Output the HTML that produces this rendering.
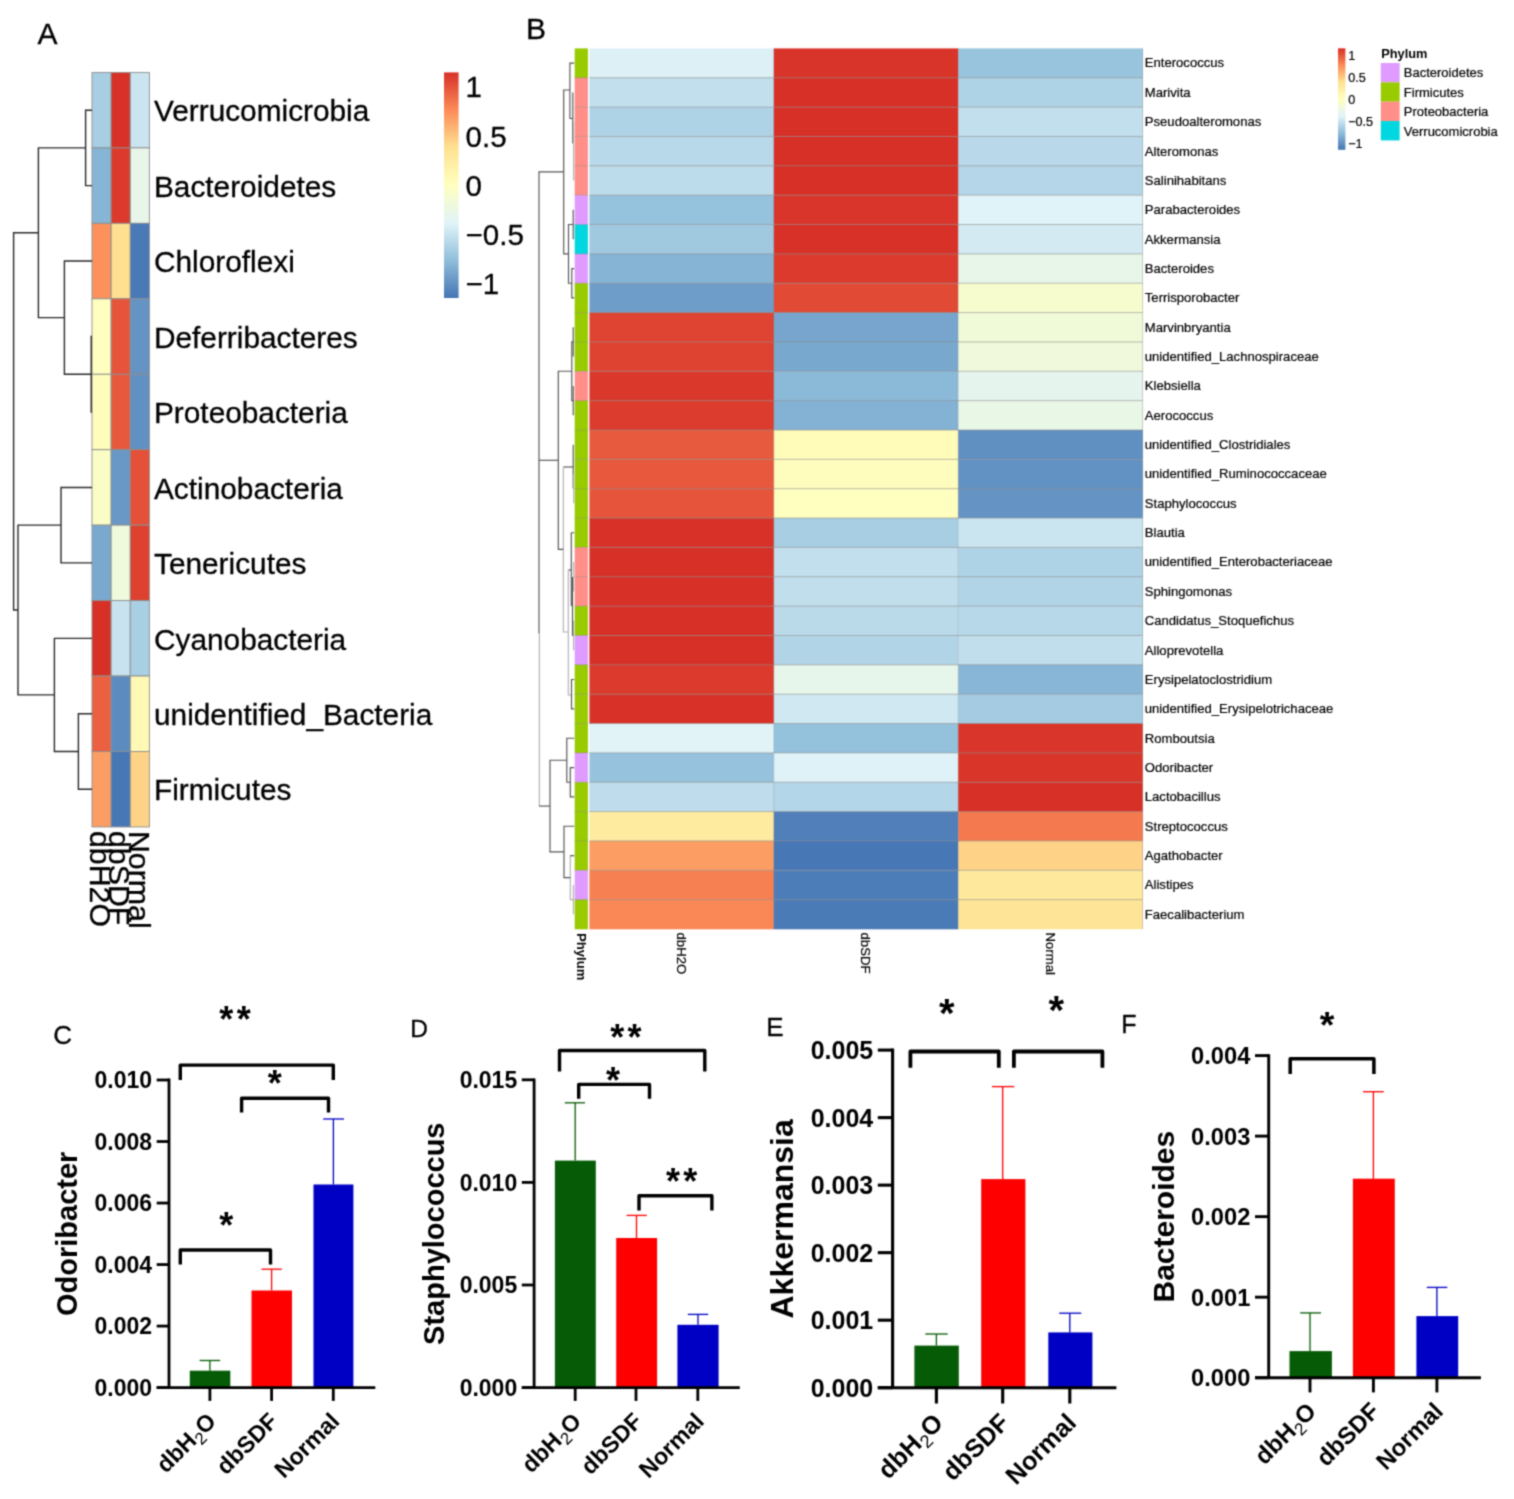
<!DOCTYPE html>
<html><head><meta charset="utf-8"><title>Figure</title>
<style>html,body{margin:0;padding:0;background:#fff}svg{display:block}text{font-family:"Liberation Sans",Arial,Helvetica,sans-serif;fill:#000}</style>
</head><body>
<svg width="1514" height="1499" viewBox="0 0 1514 1499">
<rect width="1514" height="1499" fill="#fff"/>
<filter id="soft" x="0" y="0" width="100%" height="100%" filterUnits="userSpaceOnUse" color-interpolation-filters="sRGB"><feConvolveMatrix order="3" kernelMatrix="1 3 1 3 9 3 1 3 1" divisor="25" edgeMode="duplicate" preserveAlpha="true"/></filter>
<g filter="url(#soft)">
<rect width="1514" height="1499" fill="#fff"/>
<text x="37.5" y="43.5" font-size="30" font-weight="normal" text-anchor="start"  stroke="#000" stroke-width="0.3">A</text>
<rect x="92" y="72.45" width="19.13" height="75.45" fill="#A7CEE3" stroke="#8e8e8e" stroke-width="0.9"/>
<rect x="111.13" y="72.45" width="19.13" height="75.45" fill="#D73128" stroke="#8e8e8e" stroke-width="0.9"/>
<rect x="130.26" y="72.45" width="19.13" height="75.45" fill="#CAE5F0" stroke="#8e8e8e" stroke-width="0.9"/>
<text x="154" y="121.38" font-size="29.8" font-weight="normal" text-anchor="start"  stroke="#000" stroke-width="0.3">Verrucomicrobia</text>
<rect x="92" y="147.9" width="19.13" height="75.45" fill="#86B5D5" stroke="#8e8e8e" stroke-width="0.9"/>
<rect x="111.13" y="147.9" width="19.13" height="75.45" fill="#DB3A2C" stroke="#8e8e8e" stroke-width="0.9"/>
<rect x="130.26" y="147.9" width="19.13" height="75.45" fill="#E8F6EA" stroke="#8e8e8e" stroke-width="0.9"/>
<text x="154" y="196.82" font-size="29.8" font-weight="normal" text-anchor="start"  stroke="#000" stroke-width="0.3">Bacteroidetes</text>
<rect x="92" y="223.35" width="19.13" height="75.45" fill="#FC915C" stroke="#8e8e8e" stroke-width="0.9"/>
<rect x="111.13" y="223.35" width="19.13" height="75.45" fill="#FEE090" stroke="#8e8e8e" stroke-width="0.9"/>
<rect x="130.26" y="223.35" width="19.13" height="75.45" fill="#4979B6" stroke="#8e8e8e" stroke-width="0.9"/>
<text x="154" y="272.28" font-size="29.8" font-weight="normal" text-anchor="start"  stroke="#000" stroke-width="0.3">Chloroflexi</text>
<rect x="92" y="298.8" width="19.13" height="75.45" fill="#FFFFBF" stroke="#8e8e8e" stroke-width="0.9"/>
<rect x="111.13" y="298.8" width="19.13" height="75.45" fill="#E6553B" stroke="#8e8e8e" stroke-width="0.9"/>
<rect x="130.26" y="298.8" width="19.13" height="75.45" fill="#6493C4" stroke="#8e8e8e" stroke-width="0.9"/>
<text x="154" y="347.73" font-size="29.8" font-weight="normal" text-anchor="start"  stroke="#000" stroke-width="0.3">Deferribacteres</text>
<rect x="92" y="374.25" width="19.13" height="75.45" fill="#FFFDBB" stroke="#8e8e8e" stroke-width="0.9"/>
<rect x="111.13" y="374.25" width="19.13" height="75.45" fill="#E7593D" stroke="#8e8e8e" stroke-width="0.9"/>
<rect x="130.26" y="374.25" width="19.13" height="75.45" fill="#6190C2" stroke="#8e8e8e" stroke-width="0.9"/>
<text x="154" y="423.18" font-size="29.8" font-weight="normal" text-anchor="start"  stroke="#000" stroke-width="0.3">Proteobacteria</text>
<rect x="92" y="449.7" width="19.13" height="75.45" fill="#FBFDC6" stroke="#8e8e8e" stroke-width="0.9"/>
<rect x="111.13" y="449.7" width="19.13" height="75.45" fill="#6998C6" stroke="#8e8e8e" stroke-width="0.9"/>
<rect x="130.26" y="449.7" width="19.13" height="75.45" fill="#E45038" stroke="#8e8e8e" stroke-width="0.9"/>
<text x="154" y="498.62" font-size="29.8" font-weight="normal" text-anchor="start"  stroke="#000" stroke-width="0.3">Actinobacteria</text>
<rect x="92" y="525.15" width="19.13" height="75.45" fill="#7AA9CF" stroke="#8e8e8e" stroke-width="0.9"/>
<rect x="111.13" y="525.15" width="19.13" height="75.45" fill="#EFF9DC" stroke="#8e8e8e" stroke-width="0.9"/>
<rect x="130.26" y="525.15" width="19.13" height="75.45" fill="#DE4130" stroke="#8e8e8e" stroke-width="0.9"/>
<text x="154" y="574.08" font-size="29.8" font-weight="normal" text-anchor="start"  stroke="#000" stroke-width="0.3">Tenericutes</text>
<rect x="92" y="600.6" width="19.13" height="75.45" fill="#D73127" stroke="#8e8e8e" stroke-width="0.9"/>
<rect x="111.13" y="600.6" width="19.13" height="75.45" fill="#C8E3EF" stroke="#8e8e8e" stroke-width="0.9"/>
<rect x="130.26" y="600.6" width="19.13" height="75.45" fill="#A9CFE4" stroke="#8e8e8e" stroke-width="0.9"/>
<text x="154" y="649.53" font-size="29.8" font-weight="normal" text-anchor="start"  stroke="#000" stroke-width="0.3">Cyanobacteria</text>
<rect x="92" y="676.05" width="19.13" height="75.45" fill="#EA6041" stroke="#8e8e8e" stroke-width="0.9"/>
<rect x="111.13" y="676.05" width="19.13" height="75.45" fill="#5C8BC0" stroke="#8e8e8e" stroke-width="0.9"/>
<rect x="130.26" y="676.05" width="19.13" height="75.45" fill="#FFF9B5" stroke="#8e8e8e" stroke-width="0.9"/>
<text x="154" y="724.98" font-size="29.8" font-weight="normal" text-anchor="start"  stroke="#000" stroke-width="0.3">unidentified_Bacteria</text>
<rect x="92" y="751.5" width="19.13" height="75.45" fill="#FC9D63" stroke="#8e8e8e" stroke-width="0.9"/>
<rect x="111.13" y="751.5" width="19.13" height="75.45" fill="#4777B5" stroke="#8e8e8e" stroke-width="0.9"/>
<rect x="130.26" y="751.5" width="19.13" height="75.45" fill="#FED287" stroke="#8e8e8e" stroke-width="0.9"/>
<text x="154" y="800.43" font-size="29.8" font-weight="normal" text-anchor="start"  stroke="#000" stroke-width="0.3">Firmicutes</text>
<text x="90.36" y="831" font-size="30.3" font-weight="normal" text-anchor="start" transform="rotate(90 90.36 831)"  stroke="#000" stroke-width="0.3">dbH2O</text>
<text x="109.49" y="831" font-size="30.3" font-weight="normal" text-anchor="start" transform="rotate(90 109.49 831)"  stroke="#000" stroke-width="0.3">dbSDF</text>
<text x="128.62" y="831" font-size="30.3" font-weight="normal" text-anchor="start" transform="rotate(90 128.62 831)"  stroke="#000" stroke-width="0.3">Normal</text>
<path d="M92 110.18H85.6V185.62H92" fill="none" stroke="#2a2a2a" stroke-width="1.4"/>
<path d="M92 336.52H91.2V411.98H92" fill="none" stroke="#2a2a2a" stroke-width="1.4"/>
<path d="M92 261.07H64.4V374.25H91.2" fill="none" stroke="#2a2a2a" stroke-width="1.4"/>
<path d="M85.6 147.9H38.4V317.66H64.4" fill="none" stroke="#2a2a2a" stroke-width="1.4"/>
<path d="M92 487.43H61V562.88H92" fill="none" stroke="#2a2a2a" stroke-width="1.4"/>
<path d="M92 713.78H78.4V789.23H92" fill="none" stroke="#2a2a2a" stroke-width="1.4"/>
<path d="M92 638.33H54.4V751.5H78.4" fill="none" stroke="#2a2a2a" stroke-width="1.4"/>
<path d="M61 525.15H18V694.91H54.4" fill="none" stroke="#2a2a2a" stroke-width="1.4"/>
<path d="M38.4 232.78H13.6V610.03H18" fill="none" stroke="#2a2a2a" stroke-width="1.4"/>
<defs><linearGradient id="g" x1="0" y1="0" x2="0" y2="1"><stop offset="0" stop-color="#D73027"/><stop offset="0.17" stop-color="#FC8D59"/><stop offset="0.33" stop-color="#FEE090"/><stop offset="0.5" stop-color="#FFFFBF"/><stop offset="0.67" stop-color="#E0F3F8"/><stop offset="0.83" stop-color="#91BFDB"/><stop offset="1" stop-color="#4575B4"/></linearGradient></defs>
<rect x="444" y="72.4" width="14.6" height="225.6" fill="url(#g)" />
<text x="465.6" y="97.4" font-size="29.5" font-weight="normal" text-anchor="start"  stroke="#000" stroke-width="0.3">1</text>
<text x="465.6" y="147" font-size="29.5" font-weight="normal" text-anchor="start"  stroke="#000" stroke-width="0.3">0.5</text>
<text x="465.6" y="195.8" font-size="29.5" font-weight="normal" text-anchor="start"  stroke="#000" stroke-width="0.3">0</text>
<text x="465.6" y="245" font-size="29.5" font-weight="normal" text-anchor="start"  stroke="#000" stroke-width="0.3">−0.5</text>
<text x="465.6" y="294.4" font-size="29.5" font-weight="normal" text-anchor="start"  stroke="#000" stroke-width="0.3">−1</text>
<text x="526" y="39" font-size="30" font-weight="normal" text-anchor="start"  stroke="#000" stroke-width="0.3">B</text>
<rect x="574.7" y="48.4" width="13.2" height="29.65" fill="#98CB00" />
<rect x="589.4" y="48.4" width="184.7" height="29.65" fill="#DCF0F6" />
<rect x="773.8" y="48.4" width="184.7" height="29.65" fill="#D83429" />
<rect x="958.2" y="48.4" width="184.7" height="29.65" fill="#99C4DE" />
<text x="1144.8" y="67.48" font-size="13.1" font-weight="normal" text-anchor="start"  stroke="#000" stroke-width="0.2">Enterococcus</text>
<rect x="574.7" y="77.75" width="13.2" height="29.65" fill="#FF8F88" />
<rect x="589.4" y="77.75" width="184.7" height="29.65" fill="#C2DFED" />
<rect x="773.8" y="77.75" width="184.7" height="29.65" fill="#D73027" />
<rect x="958.2" y="77.75" width="184.7" height="29.65" fill="#AFD3E6" />
<text x="1144.8" y="96.83" font-size="13.1" font-weight="normal" text-anchor="start"  stroke="#000" stroke-width="0.2">Marivita</text>
<rect x="574.7" y="107.11" width="13.2" height="29.65" fill="#FF8F88" />
<rect x="589.4" y="107.11" width="184.7" height="29.65" fill="#AFD3E6" />
<rect x="773.8" y="107.11" width="184.7" height="29.65" fill="#D73027" />
<rect x="958.2" y="107.11" width="184.7" height="29.65" fill="#C2DFED" />
<text x="1144.8" y="126.18" font-size="13.1" font-weight="normal" text-anchor="start"  stroke="#000" stroke-width="0.2">Pseudoalteromonas</text>
<rect x="574.7" y="136.46" width="13.2" height="29.65" fill="#FF8F88" />
<rect x="589.4" y="136.46" width="184.7" height="29.65" fill="#B8D9E9" />
<rect x="773.8" y="136.46" width="184.7" height="29.65" fill="#D73027" />
<rect x="958.2" y="136.46" width="184.7" height="29.65" fill="#B9D9EA" />
<text x="1144.8" y="155.54" font-size="13.1" font-weight="normal" text-anchor="start"  stroke="#000" stroke-width="0.2">Alteromonas</text>
<rect x="574.7" y="165.81" width="13.2" height="29.65" fill="#FF8F88" />
<rect x="589.4" y="165.81" width="184.7" height="29.65" fill="#BDDCEB" />
<rect x="773.8" y="165.81" width="184.7" height="29.65" fill="#D73027" />
<rect x="958.2" y="165.81" width="184.7" height="29.65" fill="#B4D6E8" />
<text x="1144.8" y="184.89" font-size="13.1" font-weight="normal" text-anchor="start"  stroke="#000" stroke-width="0.2">Salinihabitans</text>
<rect x="574.7" y="195.17" width="13.2" height="29.65" fill="#DF9BFF" />
<rect x="589.4" y="195.17" width="184.7" height="29.65" fill="#95C2DC" />
<rect x="773.8" y="195.17" width="184.7" height="29.65" fill="#D9352A" />
<rect x="958.2" y="195.17" width="184.7" height="29.65" fill="#E0F3F8" />
<text x="1144.8" y="214.24" font-size="13.1" font-weight="normal" text-anchor="start"  stroke="#000" stroke-width="0.2">Parabacteroides</text>
<rect x="574.7" y="224.52" width="13.2" height="29.65" fill="#00D7E0" />
<rect x="589.4" y="224.52" width="184.7" height="29.65" fill="#A0C9E0" />
<rect x="773.8" y="224.52" width="184.7" height="29.65" fill="#D83228" />
<rect x="958.2" y="224.52" width="184.7" height="29.65" fill="#D3EAF3" />
<text x="1144.8" y="243.59" font-size="13.1" font-weight="normal" text-anchor="start"  stroke="#000" stroke-width="0.2">Akkermansia</text>
<rect x="574.7" y="253.87" width="13.2" height="29.65" fill="#DF9BFF" />
<rect x="589.4" y="253.87" width="184.7" height="29.65" fill="#86B4D5" />
<rect x="773.8" y="253.87" width="184.7" height="29.65" fill="#DB3A2D" />
<rect x="958.2" y="253.87" width="184.7" height="29.65" fill="#E8F6E9" />
<text x="1144.8" y="272.95" font-size="13.1" font-weight="normal" text-anchor="start"  stroke="#000" stroke-width="0.2">Bacteroides</text>
<rect x="574.7" y="283.22" width="13.2" height="29.65" fill="#98CB00" />
<rect x="589.4" y="283.22" width="184.7" height="29.65" fill="#6E9DC9" />
<rect x="773.8" y="283.22" width="184.7" height="29.65" fill="#E14A35" />
<rect x="958.2" y="283.22" width="184.7" height="29.65" fill="#F7FCCE" />
<text x="1144.8" y="302.3" font-size="13.1" font-weight="normal" text-anchor="start"  stroke="#000" stroke-width="0.2">Terrisporobacter</text>
<rect x="574.7" y="312.58" width="13.2" height="29.65" fill="#98CB00" />
<rect x="589.4" y="312.58" width="184.7" height="29.65" fill="#DF4331" />
<rect x="773.8" y="312.58" width="184.7" height="29.65" fill="#77A5CD" />
<rect x="958.2" y="312.58" width="184.7" height="29.65" fill="#F1FAD8" />
<text x="1144.8" y="331.65" font-size="13.1" font-weight="normal" text-anchor="start"  stroke="#000" stroke-width="0.2">Marvinbryantia</text>
<rect x="574.7" y="341.93" width="13.2" height="29.65" fill="#98CB00" />
<rect x="589.4" y="341.93" width="184.7" height="29.65" fill="#DE4231" />
<rect x="773.8" y="341.93" width="184.7" height="29.65" fill="#79A8CF" />
<rect x="958.2" y="341.93" width="184.7" height="29.65" fill="#F0F9DB" />
<text x="1144.8" y="361.01" font-size="13.1" font-weight="normal" text-anchor="start"  stroke="#000" stroke-width="0.2">unidentified_Lachnospiraceae</text>
<rect x="574.7" y="371.28" width="13.2" height="29.65" fill="#FF8F88" />
<rect x="589.4" y="371.28" width="184.7" height="29.65" fill="#DA382B" />
<rect x="773.8" y="371.28" width="184.7" height="29.65" fill="#8BB9D8" />
<rect x="958.2" y="371.28" width="184.7" height="29.65" fill="#E5F5EE" />
<text x="1144.8" y="390.36" font-size="13.1" font-weight="normal" text-anchor="start"  stroke="#000" stroke-width="0.2">Klebsiella</text>
<rect x="574.7" y="400.64" width="13.2" height="29.65" fill="#98CB00" />
<rect x="589.4" y="400.64" width="184.7" height="29.65" fill="#DC3C2D" />
<rect x="773.8" y="400.64" width="184.7" height="29.65" fill="#84B2D4" />
<rect x="958.2" y="400.64" width="184.7" height="29.65" fill="#E9F7E7" />
<text x="1144.8" y="419.71" font-size="13.1" font-weight="normal" text-anchor="start"  stroke="#000" stroke-width="0.2">Aerococcus</text>
<rect x="574.7" y="429.99" width="13.2" height="29.65" fill="#98CB00" />
<rect x="589.4" y="429.99" width="184.7" height="29.65" fill="#E85A3E" />
<rect x="773.8" y="429.99" width="184.7" height="29.65" fill="#FFFCBA" />
<rect x="958.2" y="429.99" width="184.7" height="29.65" fill="#608FC2" />
<text x="1144.8" y="449.07" font-size="13.1" font-weight="normal" text-anchor="start"  stroke="#000" stroke-width="0.2">unidentified_Clostridiales</text>
<rect x="574.7" y="459.34" width="13.2" height="29.65" fill="#98CB00" />
<rect x="589.4" y="459.34" width="184.7" height="29.65" fill="#E7583C" />
<rect x="773.8" y="459.34" width="184.7" height="29.65" fill="#FFFDBD" />
<rect x="958.2" y="459.34" width="184.7" height="29.65" fill="#6291C3" />
<text x="1144.8" y="478.42" font-size="13.1" font-weight="normal" text-anchor="start"  stroke="#000" stroke-width="0.2">unidentified_Ruminococcaceae</text>
<rect x="574.7" y="488.69" width="13.2" height="29.65" fill="#98CB00" />
<rect x="589.4" y="488.69" width="184.7" height="29.65" fill="#E6553B" />
<rect x="773.8" y="488.69" width="184.7" height="29.65" fill="#FFFFBF" />
<rect x="958.2" y="488.69" width="184.7" height="29.65" fill="#6493C4" />
<text x="1144.8" y="507.77" font-size="13.1" font-weight="normal" text-anchor="start"  stroke="#000" stroke-width="0.2">Staphylococcus</text>
<rect x="574.7" y="518.05" width="13.2" height="29.65" fill="#98CB00" />
<rect x="589.4" y="518.05" width="184.7" height="29.65" fill="#D73128" />
<rect x="773.8" y="518.05" width="184.7" height="29.65" fill="#A7CEE3" />
<rect x="958.2" y="518.05" width="184.7" height="29.65" fill="#CAE5F0" />
<text x="1144.8" y="537.12" font-size="13.1" font-weight="normal" text-anchor="start"  stroke="#000" stroke-width="0.2">Blautia</text>
<rect x="574.7" y="547.4" width="13.2" height="29.65" fill="#FF8F88" />
<rect x="589.4" y="547.4" width="184.7" height="29.65" fill="#D73027" />
<rect x="773.8" y="547.4" width="184.7" height="29.65" fill="#C2DFED" />
<rect x="958.2" y="547.4" width="184.7" height="29.65" fill="#AFD3E6" />
<text x="1144.8" y="566.48" font-size="13.1" font-weight="normal" text-anchor="start"  stroke="#000" stroke-width="0.2">unidentified_Enterobacteriaceae</text>
<rect x="574.7" y="576.75" width="13.2" height="29.65" fill="#FF8F88" />
<rect x="589.4" y="576.75" width="184.7" height="29.65" fill="#D73027" />
<rect x="773.8" y="576.75" width="184.7" height="29.65" fill="#C0DEEC" />
<rect x="958.2" y="576.75" width="184.7" height="29.65" fill="#B1D4E7" />
<text x="1144.8" y="595.83" font-size="13.1" font-weight="normal" text-anchor="start"  stroke="#000" stroke-width="0.2">Sphingomonas</text>
<rect x="574.7" y="606.11" width="13.2" height="29.65" fill="#98CB00" />
<rect x="589.4" y="606.11" width="184.7" height="29.65" fill="#D73027" />
<rect x="773.8" y="606.11" width="184.7" height="29.65" fill="#BADAEA" />
<rect x="958.2" y="606.11" width="184.7" height="29.65" fill="#B7D8E9" />
<text x="1144.8" y="625.18" font-size="13.1" font-weight="normal" text-anchor="start"  stroke="#000" stroke-width="0.2">Candidatus_Stoquefichus</text>
<rect x="574.7" y="635.46" width="13.2" height="29.65" fill="#DF9BFF" />
<rect x="589.4" y="635.46" width="184.7" height="29.65" fill="#D73027" />
<rect x="773.8" y="635.46" width="184.7" height="29.65" fill="#B1D4E7" />
<rect x="958.2" y="635.46" width="184.7" height="29.65" fill="#C0DEEC" />
<text x="1144.8" y="654.54" font-size="13.1" font-weight="normal" text-anchor="start"  stroke="#000" stroke-width="0.2">Alloprevotella</text>
<rect x="574.7" y="664.81" width="13.2" height="29.65" fill="#98CB00" />
<rect x="589.4" y="664.81" width="184.7" height="29.65" fill="#DB3A2C" />
<rect x="773.8" y="664.81" width="184.7" height="29.65" fill="#E7F6EB" />
<rect x="958.2" y="664.81" width="184.7" height="29.65" fill="#87B6D6" />
<text x="1144.8" y="683.89" font-size="13.1" font-weight="normal" text-anchor="start"  stroke="#000" stroke-width="0.2">Erysipelatoclostridium</text>
<rect x="574.7" y="694.17" width="13.2" height="29.65" fill="#98CB00" />
<rect x="589.4" y="694.17" width="184.7" height="29.65" fill="#D83228" />
<rect x="773.8" y="694.17" width="184.7" height="29.65" fill="#CFE8F2" />
<rect x="958.2" y="694.17" width="184.7" height="29.65" fill="#A4CBE2" />
<text x="1144.8" y="713.24" font-size="13.1" font-weight="normal" text-anchor="start"  stroke="#000" stroke-width="0.2">unidentified_Erysipelotrichaceae</text>
<rect x="574.7" y="723.52" width="13.2" height="29.65" fill="#98CB00" />
<rect x="589.4" y="723.52" width="184.7" height="29.65" fill="#E1F3F7" />
<rect x="773.8" y="723.52" width="184.7" height="29.65" fill="#94C1DC" />
<rect x="958.2" y="723.52" width="184.7" height="29.65" fill="#D9352A" />
<text x="1144.8" y="742.6" font-size="13.1" font-weight="normal" text-anchor="start"  stroke="#000" stroke-width="0.2">Romboutsia</text>
<rect x="574.7" y="752.87" width="13.2" height="29.65" fill="#DF9BFF" />
<rect x="589.4" y="752.87" width="184.7" height="29.65" fill="#96C2DD" />
<rect x="773.8" y="752.87" width="184.7" height="29.65" fill="#DFF2F8" />
<rect x="958.2" y="752.87" width="184.7" height="29.65" fill="#D93529" />
<text x="1144.8" y="771.95" font-size="13.1" font-weight="normal" text-anchor="start"  stroke="#000" stroke-width="0.2">Odoribacter</text>
<rect x="574.7" y="782.23" width="13.2" height="29.65" fill="#98CB00" />
<rect x="589.4" y="782.23" width="184.7" height="29.65" fill="#BEDCEB" />
<rect x="773.8" y="782.23" width="184.7" height="29.65" fill="#B3D6E8" />
<rect x="958.2" y="782.23" width="184.7" height="29.65" fill="#D73027" />
<text x="1144.8" y="801.3" font-size="13.1" font-weight="normal" text-anchor="start"  stroke="#000" stroke-width="0.2">Lactobacillus</text>
<rect x="574.7" y="811.58" width="13.2" height="29.65" fill="#98CB00" />
<rect x="589.4" y="811.58" width="184.7" height="29.65" fill="#FEEBA0" />
<rect x="773.8" y="811.58" width="184.7" height="29.65" fill="#507FB9" />
<rect x="958.2" y="811.58" width="184.7" height="29.65" fill="#F4794E" />
<text x="1144.8" y="830.65" font-size="13.1" font-weight="normal" text-anchor="start"  stroke="#000" stroke-width="0.2">Streptococcus</text>
<rect x="574.7" y="840.93" width="13.2" height="29.65" fill="#98CB00" />
<rect x="589.4" y="840.93" width="184.7" height="29.65" fill="#FC9D63" />
<rect x="773.8" y="840.93" width="184.7" height="29.65" fill="#4777B5" />
<rect x="958.2" y="840.93" width="184.7" height="29.65" fill="#FED287" />
<text x="1144.8" y="860.01" font-size="13.1" font-weight="normal" text-anchor="start"  stroke="#000" stroke-width="0.2">Agathobacter</text>
<rect x="574.7" y="870.28" width="13.2" height="29.65" fill="#DF9BFF" />
<rect x="589.4" y="870.28" width="184.7" height="29.65" fill="#F78052" />
<rect x="773.8" y="870.28" width="184.7" height="29.65" fill="#4D7DB8" />
<rect x="958.2" y="870.28" width="184.7" height="29.65" fill="#FEE89B" />
<text x="1144.8" y="889.36" font-size="13.1" font-weight="normal" text-anchor="start"  stroke="#000" stroke-width="0.2">Alistipes</text>
<rect x="574.7" y="899.64" width="13.2" height="29.65" fill="#98CB00" />
<rect x="589.4" y="899.64" width="184.7" height="29.65" fill="#FA8856" />
<rect x="773.8" y="899.64" width="184.7" height="29.65" fill="#4B7BB7" />
<rect x="958.2" y="899.64" width="184.7" height="29.65" fill="#FEE497" />
<text x="1144.8" y="918.71" font-size="13.1" font-weight="normal" text-anchor="start"  stroke="#000" stroke-width="0.2">Faecalibacterium</text>
<line x1="574.7" y1="77.75" x2="587.9" y2="77.75" stroke="#8a8a8a" stroke-width="1" stroke-opacity="0.4"/>
<line x1="589.4" y1="77.75" x2="1142.6" y2="77.75" stroke="#909090" stroke-width="1" stroke-opacity="0.6"/>
<line x1="574.7" y1="107.11" x2="587.9" y2="107.11" stroke="#8a8a8a" stroke-width="1" stroke-opacity="0.4"/>
<line x1="589.4" y1="107.11" x2="1142.6" y2="107.11" stroke="#909090" stroke-width="1" stroke-opacity="0.6"/>
<line x1="574.7" y1="136.46" x2="587.9" y2="136.46" stroke="#8a8a8a" stroke-width="1" stroke-opacity="0.4"/>
<line x1="589.4" y1="136.46" x2="1142.6" y2="136.46" stroke="#909090" stroke-width="1" stroke-opacity="0.6"/>
<line x1="574.7" y1="165.81" x2="587.9" y2="165.81" stroke="#8a8a8a" stroke-width="1" stroke-opacity="0.4"/>
<line x1="589.4" y1="165.81" x2="1142.6" y2="165.81" stroke="#909090" stroke-width="1" stroke-opacity="0.6"/>
<line x1="574.7" y1="195.17" x2="587.9" y2="195.17" stroke="#8a8a8a" stroke-width="1" stroke-opacity="0.4"/>
<line x1="589.4" y1="195.17" x2="1142.6" y2="195.17" stroke="#909090" stroke-width="1" stroke-opacity="0.6"/>
<line x1="574.7" y1="224.52" x2="587.9" y2="224.52" stroke="#8a8a8a" stroke-width="1" stroke-opacity="0.4"/>
<line x1="589.4" y1="224.52" x2="1142.6" y2="224.52" stroke="#909090" stroke-width="1" stroke-opacity="0.6"/>
<line x1="574.7" y1="253.87" x2="587.9" y2="253.87" stroke="#8a8a8a" stroke-width="1" stroke-opacity="0.4"/>
<line x1="589.4" y1="253.87" x2="1142.6" y2="253.87" stroke="#909090" stroke-width="1" stroke-opacity="0.6"/>
<line x1="574.7" y1="283.22" x2="587.9" y2="283.22" stroke="#8a8a8a" stroke-width="1" stroke-opacity="0.4"/>
<line x1="589.4" y1="283.22" x2="1142.6" y2="283.22" stroke="#909090" stroke-width="1" stroke-opacity="0.6"/>
<line x1="574.7" y1="312.58" x2="587.9" y2="312.58" stroke="#8a8a8a" stroke-width="1" stroke-opacity="0.4"/>
<line x1="589.4" y1="312.58" x2="1142.6" y2="312.58" stroke="#909090" stroke-width="1" stroke-opacity="0.6"/>
<line x1="574.7" y1="341.93" x2="587.9" y2="341.93" stroke="#8a8a8a" stroke-width="1" stroke-opacity="0.4"/>
<line x1="589.4" y1="341.93" x2="1142.6" y2="341.93" stroke="#909090" stroke-width="1" stroke-opacity="0.6"/>
<line x1="574.7" y1="371.28" x2="587.9" y2="371.28" stroke="#8a8a8a" stroke-width="1" stroke-opacity="0.4"/>
<line x1="589.4" y1="371.28" x2="1142.6" y2="371.28" stroke="#909090" stroke-width="1" stroke-opacity="0.6"/>
<line x1="574.7" y1="400.64" x2="587.9" y2="400.64" stroke="#8a8a8a" stroke-width="1" stroke-opacity="0.4"/>
<line x1="589.4" y1="400.64" x2="1142.6" y2="400.64" stroke="#909090" stroke-width="1" stroke-opacity="0.6"/>
<line x1="574.7" y1="429.99" x2="587.9" y2="429.99" stroke="#8a8a8a" stroke-width="1" stroke-opacity="0.4"/>
<line x1="589.4" y1="429.99" x2="1142.6" y2="429.99" stroke="#909090" stroke-width="1" stroke-opacity="0.6"/>
<line x1="574.7" y1="459.34" x2="587.9" y2="459.34" stroke="#8a8a8a" stroke-width="1" stroke-opacity="0.4"/>
<line x1="589.4" y1="459.34" x2="1142.6" y2="459.34" stroke="#909090" stroke-width="1" stroke-opacity="0.6"/>
<line x1="574.7" y1="488.69" x2="587.9" y2="488.69" stroke="#8a8a8a" stroke-width="1" stroke-opacity="0.4"/>
<line x1="589.4" y1="488.69" x2="1142.6" y2="488.69" stroke="#909090" stroke-width="1" stroke-opacity="0.6"/>
<line x1="574.7" y1="518.05" x2="587.9" y2="518.05" stroke="#8a8a8a" stroke-width="1" stroke-opacity="0.4"/>
<line x1="589.4" y1="518.05" x2="1142.6" y2="518.05" stroke="#909090" stroke-width="1" stroke-opacity="0.6"/>
<line x1="574.7" y1="547.4" x2="587.9" y2="547.4" stroke="#8a8a8a" stroke-width="1" stroke-opacity="0.4"/>
<line x1="589.4" y1="547.4" x2="1142.6" y2="547.4" stroke="#909090" stroke-width="1" stroke-opacity="0.6"/>
<line x1="574.7" y1="576.75" x2="587.9" y2="576.75" stroke="#8a8a8a" stroke-width="1" stroke-opacity="0.4"/>
<line x1="589.4" y1="576.75" x2="1142.6" y2="576.75" stroke="#909090" stroke-width="1" stroke-opacity="0.6"/>
<line x1="574.7" y1="606.11" x2="587.9" y2="606.11" stroke="#8a8a8a" stroke-width="1" stroke-opacity="0.4"/>
<line x1="589.4" y1="606.11" x2="1142.6" y2="606.11" stroke="#909090" stroke-width="1" stroke-opacity="0.6"/>
<line x1="574.7" y1="635.46" x2="587.9" y2="635.46" stroke="#8a8a8a" stroke-width="1" stroke-opacity="0.4"/>
<line x1="589.4" y1="635.46" x2="1142.6" y2="635.46" stroke="#909090" stroke-width="1" stroke-opacity="0.6"/>
<line x1="574.7" y1="664.81" x2="587.9" y2="664.81" stroke="#8a8a8a" stroke-width="1" stroke-opacity="0.4"/>
<line x1="589.4" y1="664.81" x2="1142.6" y2="664.81" stroke="#909090" stroke-width="1" stroke-opacity="0.6"/>
<line x1="574.7" y1="694.17" x2="587.9" y2="694.17" stroke="#8a8a8a" stroke-width="1" stroke-opacity="0.4"/>
<line x1="589.4" y1="694.17" x2="1142.6" y2="694.17" stroke="#909090" stroke-width="1" stroke-opacity="0.6"/>
<line x1="574.7" y1="723.52" x2="587.9" y2="723.52" stroke="#8a8a8a" stroke-width="1" stroke-opacity="0.4"/>
<line x1="589.4" y1="723.52" x2="1142.6" y2="723.52" stroke="#909090" stroke-width="1" stroke-opacity="0.6"/>
<line x1="574.7" y1="752.87" x2="587.9" y2="752.87" stroke="#8a8a8a" stroke-width="1" stroke-opacity="0.4"/>
<line x1="589.4" y1="752.87" x2="1142.6" y2="752.87" stroke="#909090" stroke-width="1" stroke-opacity="0.6"/>
<line x1="574.7" y1="782.23" x2="587.9" y2="782.23" stroke="#8a8a8a" stroke-width="1" stroke-opacity="0.4"/>
<line x1="589.4" y1="782.23" x2="1142.6" y2="782.23" stroke="#909090" stroke-width="1" stroke-opacity="0.6"/>
<line x1="574.7" y1="811.58" x2="587.9" y2="811.58" stroke="#8a8a8a" stroke-width="1" stroke-opacity="0.4"/>
<line x1="589.4" y1="811.58" x2="1142.6" y2="811.58" stroke="#909090" stroke-width="1" stroke-opacity="0.6"/>
<line x1="574.7" y1="840.93" x2="587.9" y2="840.93" stroke="#8a8a8a" stroke-width="1" stroke-opacity="0.4"/>
<line x1="589.4" y1="840.93" x2="1142.6" y2="840.93" stroke="#909090" stroke-width="1" stroke-opacity="0.6"/>
<line x1="574.7" y1="870.28" x2="587.9" y2="870.28" stroke="#8a8a8a" stroke-width="1" stroke-opacity="0.4"/>
<line x1="589.4" y1="870.28" x2="1142.6" y2="870.28" stroke="#909090" stroke-width="1" stroke-opacity="0.6"/>
<line x1="574.7" y1="899.64" x2="587.9" y2="899.64" stroke="#8a8a8a" stroke-width="1" stroke-opacity="0.4"/>
<line x1="589.4" y1="899.64" x2="1142.6" y2="899.64" stroke="#909090" stroke-width="1" stroke-opacity="0.6"/>
<line x1="773.8" y1="48.4" x2="773.8" y2="928.99" stroke="#8a8a8a" stroke-width="1" stroke-opacity="0.25"/>
<line x1="958.2" y1="48.4" x2="958.2" y2="928.99" stroke="#8a8a8a" stroke-width="1" stroke-opacity="0.25"/>
<line x1="1142.6" y1="48.4" x2="1142.6" y2="928.99" stroke="#8a8a8a" stroke-width="1" stroke-opacity="0.4"/>
<text x="676.9" y="932.5" font-size="13.2" font-weight="normal" text-anchor="start" transform="rotate(90 676.9 932.5)"  stroke="#000" stroke-width="0.2">dbH2O</text>
<text x="861.3" y="932.5" font-size="13.2" font-weight="normal" text-anchor="start" transform="rotate(90 861.3 932.5)"  stroke="#000" stroke-width="0.2">dbSDF</text>
<text x="1045.7" y="932.5" font-size="13.2" font-weight="normal" text-anchor="start" transform="rotate(90 1045.7 932.5)"  stroke="#000" stroke-width="0.2">Normal</text>
<text x="576.6" y="933" font-size="13.1" font-weight="bold" text-anchor="start" transform="rotate(90 576.6 933)" >Phylum</text>
<rect x="1338" y="48.3" width="7.4" height="101.5" fill="url(#g)" />
<text x="1348.2" y="59.9" font-size="12.6" font-weight="normal" text-anchor="start"  stroke="#000" stroke-width="0.2">1</text>
<text x="1348.2" y="81.6" font-size="12.6" font-weight="normal" text-anchor="start"  stroke="#000" stroke-width="0.2">0.5</text>
<text x="1348.2" y="103.7" font-size="12.6" font-weight="normal" text-anchor="start"  stroke="#000" stroke-width="0.2">0</text>
<text x="1348.2" y="125.6" font-size="12.6" font-weight="normal" text-anchor="start"  stroke="#000" stroke-width="0.2">−0.5</text>
<text x="1348.2" y="147.7" font-size="12.6" font-weight="normal" text-anchor="start"  stroke="#000" stroke-width="0.2">−1</text>
<text x="1381.2" y="58" font-size="12.8" font-weight="bold" text-anchor="start" >Phylum</text>
<rect x="1380.8" y="63" width="18.8" height="19.35" fill="#DF9BFF" />
<text x="1403.8" y="77.3" font-size="13" font-weight="normal" text-anchor="start"  stroke="#000" stroke-width="0.2">Bacteroidetes</text>
<rect x="1380.8" y="82.35" width="18.8" height="19.35" fill="#98CB00" />
<text x="1403.8" y="96.75" font-size="13" font-weight="normal" text-anchor="start"  stroke="#000" stroke-width="0.2">Firmicutes</text>
<rect x="1380.8" y="101.7" width="18.8" height="19.35" fill="#FF8F88" />
<text x="1403.8" y="116.2" font-size="13" font-weight="normal" text-anchor="start"  stroke="#000" stroke-width="0.2">Proteobacteria</text>
<rect x="1380.8" y="121.05" width="18.8" height="19.35" fill="#00D7E0" />
<text x="1403.8" y="135.65" font-size="13" font-weight="normal" text-anchor="start"  stroke="#000" stroke-width="0.2">Verrucomicrobia</text>
<path d="M572.8 92.43V143.5" fill="none" stroke="#555555" stroke-width="1.15"/>
<path d="M573.6 121.78V180.49" fill="none" stroke="#b0b0b0" stroke-width="1.15"/>
<path d="M574.2 63.08H569.9V118.5H572.8" fill="none" stroke="#555555" stroke-width="1.15"/>
<path d="M573.2 209.84V239.19" fill="none" stroke="#555555" stroke-width="1.15"/>
<path d="M574.2 268.55H571.8V297.9H574.2" fill="none" stroke="#555555" stroke-width="1.15"/>
<path d="M573.2 224.52H568.5V283.22H571.8" fill="none" stroke="#555555" stroke-width="1.15"/>
<path d="M569.9 90H563.7V253.87H568.5" fill="none" stroke="#555555" stroke-width="1.15"/>
<path d="M573.2 327.25V356.61" fill="none" stroke="#555555" stroke-width="1.15"/>
<path d="M573.2 385.96V415.31" fill="none" stroke="#555555" stroke-width="1.15"/>
<path d="M573.2 341.93H571.8V400.64H573.2" fill="none" stroke="#555555" stroke-width="1.15"/>
<path d="M573.2 444.67V488.4" fill="none" stroke="#555555" stroke-width="1.15"/>
<path d="M573.7 474.02V503.37" fill="none" stroke="#b0b0b0" stroke-width="1.15"/>
<path d="M573.2 467H563.3" fill="none" stroke="#555555" stroke-width="1.15"/>
<path d="M563.3 467V632H568.3" fill="none" stroke="#b0b0b0" stroke-width="1.15"/>
<path d="M571.8 371.28H558.3V549.3H563.3" fill="none" stroke="#555555" stroke-width="1.15"/>
<path d="M574.2 532.72H571.3V606" fill="none" stroke="#555555" stroke-width="1.15"/>
<path d="M572.5 577V636" fill="none" stroke="#555555" stroke-width="1.15"/>
<path d="M573.6 562.08V591.43M573.6 620.78V650.14" fill="none" stroke="#b0b0b0" stroke-width="1.15"/>
<path d="M571.3 570H568.3" fill="none" stroke="#555555" stroke-width="1.15"/>
<path d="M568.3 570V695H571.5" fill="none" stroke="#b0b0b0" stroke-width="1.15"/>
<path d="M574.2 679.49H571.5V708.84H574.2" fill="none" stroke="#555555" stroke-width="1.15"/>
<path d="M563.7 171.94H539V633.5" fill="none" stroke="#555555" stroke-width="1.15"/>
<path d="M539.4 633V807" fill="none" stroke="#b0b0b0" stroke-width="1.15"/>
<path d="M558.3 460.29H539" fill="none" stroke="#555555" stroke-width="1.15"/>
<path d="M574.2 767.55H570.3V796.9H574.2" fill="none" stroke="#555555" stroke-width="1.15"/>
<path d="M574.2 738.2H566.8V782.23H570.3" fill="none" stroke="#555555" stroke-width="1.15"/>
<path d="M573.4 884.96V914.31" fill="none" stroke="#b0b0b0" stroke-width="1.15"/>
<path d="M574.2 855.61H570.3V899.64H573.4" fill="none" stroke="#b0b0b0" stroke-width="1.15"/>
<path d="M574.2 855.61H570.3" fill="none" stroke="#555555" stroke-width="1.15"/>
<path d="M574.2 826.25H564V877.62H570.3" fill="none" stroke="#555555" stroke-width="1.15"/>
<path d="M566.8 760.21H550V851.94H564" fill="none" stroke="#555555" stroke-width="1.15"/>
<path d="M550 806.07H539.4" fill="none" stroke="#555555" stroke-width="1.15"/>
<text x="53.2" y="1044" font-size="26" font-weight="normal" text-anchor="start"  stroke="#000" stroke-width="0.3">C</text>
<text x="77.3" y="1233.8" font-size="29" font-weight="bold" text-anchor="middle" transform="rotate(-90 77.3 1233.8)" >Odoribacter</text>
<line x1="156.7" y1="1387.6" x2="169" y2="1387.6" stroke="#000" stroke-width="2.8" />
<text x="152.1" y="1395.83" font-size="23" font-weight="bold" text-anchor="end" >0.000</text>
<line x1="156.7" y1="1326.08" x2="169" y2="1326.08" stroke="#000" stroke-width="2.8" />
<text x="152.1" y="1334.31" font-size="23" font-weight="bold" text-anchor="end" >0.002</text>
<line x1="156.7" y1="1264.56" x2="169" y2="1264.56" stroke="#000" stroke-width="2.8" />
<text x="152.1" y="1272.79" font-size="23" font-weight="bold" text-anchor="end" >0.004</text>
<line x1="156.7" y1="1203.04" x2="169" y2="1203.04" stroke="#000" stroke-width="2.8" />
<text x="152.1" y="1211.27" font-size="23" font-weight="bold" text-anchor="end" >0.006</text>
<line x1="156.7" y1="1141.52" x2="169" y2="1141.52" stroke="#000" stroke-width="2.8" />
<text x="152.1" y="1149.75" font-size="23" font-weight="bold" text-anchor="end" >0.008</text>
<line x1="156.7" y1="1080" x2="169" y2="1080" stroke="#000" stroke-width="2.8" />
<text x="152.1" y="1088.23" font-size="23" font-weight="bold" text-anchor="end" >0.010</text>
<rect x="189.8" y="1370.7" width="40.5" height="16.9" fill="#065B06" />
<line x1="209.9" y1="1370.7" x2="209.9" y2="1360.5" stroke="#065B06" stroke-width="1.3" />
<line x1="199.6" y1="1360.5" x2="220.2" y2="1360.5" stroke="#065B06" stroke-width="1.3" />
<rect x="251.5" y="1290.5" width="40.5" height="97.1" fill="#FF0000" />
<line x1="271.6" y1="1290.5" x2="271.6" y2="1269.2" stroke="#FF0000" stroke-width="1.3" />
<line x1="261.5" y1="1269.2" x2="281.8" y2="1269.2" stroke="#FF0000" stroke-width="1.3" />
<rect x="313.5" y="1184.5" width="39.9" height="203.1" fill="#0000C4" />
<line x1="333.4" y1="1184.5" x2="333.4" y2="1119" stroke="#0000C4" stroke-width="1.3" />
<line x1="323.2" y1="1119" x2="344" y2="1119" stroke="#0000C4" stroke-width="1.3" />
<path d="M169 1078.6V1387.6" fill="none" stroke="#000" stroke-width="2.8"/>
<line x1="156.7" y1="1387.6" x2="375.3" y2="1387.6" stroke="#000" stroke-width="2.8" />
<line x1="209.9" y1="1387.6" x2="209.9" y2="1400.9" stroke="#000" stroke-width="2.8" />
<line x1="271.6" y1="1387.6" x2="271.6" y2="1400.9" stroke="#000" stroke-width="2.8" />
<line x1="333.3" y1="1387.6" x2="333.3" y2="1400.9" stroke="#000" stroke-width="2.8" />
<text x="217.4" y="1422.6" font-size="23.3" font-weight="bold" text-anchor="end" transform="rotate(-45 217.4 1422.6)" >dbH<tspan font-size="16.78" font-weight="normal" dy="5.13">2</tspan><tspan dy="-5.13">O</tspan></text>
<text x="279.1" y="1422.6" font-size="23.3" font-weight="bold" text-anchor="end" transform="rotate(-45 279.1 1422.6)" >dbSDF</text>
<text x="340.8" y="1422.6" font-size="23.3" font-weight="bold" text-anchor="end" transform="rotate(-45 340.8 1422.6)" >Normal</text>
<path d="M180.3 1080V1065.1H333.3V1080" fill="none" stroke="#000" stroke-width="3.4" stroke-linejoin="round"/>
<text x="226.2" y="1032.2" font-size="36" font-weight="bold" text-anchor="middle" >*</text>
<text x="243.8" y="1032.2" font-size="36" font-weight="bold" text-anchor="middle" >*</text>
<path d="M241.6 1112.6V1098.2H328.5V1112.6" fill="none" stroke="#000" stroke-width="3.4" stroke-linejoin="round"/>
<text x="274.8" y="1096.2" font-size="36" font-weight="bold" text-anchor="middle" >*</text>
<path d="M180.3 1264.6V1250H270.5V1264.6" fill="none" stroke="#000" stroke-width="3.4" stroke-linejoin="round"/>
<text x="226.3" y="1238.4" font-size="36" font-weight="bold" text-anchor="middle" >*</text>
<text x="410.2" y="1037.3" font-size="24.5" font-weight="normal" text-anchor="start"  stroke="#000" stroke-width="0.3">D</text>
<text x="444" y="1233.7" font-size="29" font-weight="bold" text-anchor="middle" transform="rotate(-90 444 1233.7)" >Staphylococcus</text>
<line x1="521.8" y1="1387.6" x2="534.1" y2="1387.6" stroke="#000" stroke-width="2.8" />
<text x="517.2" y="1395.83" font-size="23" font-weight="bold" text-anchor="end" >0.000</text>
<line x1="521.8" y1="1285" x2="534.1" y2="1285" stroke="#000" stroke-width="2.8" />
<text x="517.2" y="1293.23" font-size="23" font-weight="bold" text-anchor="end" >0.005</text>
<line x1="521.8" y1="1182.4" x2="534.1" y2="1182.4" stroke="#000" stroke-width="2.8" />
<text x="517.2" y="1190.63" font-size="23" font-weight="bold" text-anchor="end" >0.010</text>
<line x1="521.8" y1="1079.8" x2="534.1" y2="1079.8" stroke="#000" stroke-width="2.8" />
<text x="517.2" y="1088.03" font-size="23" font-weight="bold" text-anchor="end" >0.015</text>
<rect x="554.9" y="1160.6" width="40.9" height="227" fill="#065B06" />
<line x1="575.2" y1="1160.6" x2="575.2" y2="1102.8" stroke="#065B06" stroke-width="1.3" />
<line x1="564.8" y1="1102.8" x2="585" y2="1102.8" stroke="#065B06" stroke-width="1.3" />
<rect x="616.2" y="1238" width="40.9" height="149.6" fill="#FF0000" />
<line x1="636.5" y1="1238" x2="636.5" y2="1215.4" stroke="#FF0000" stroke-width="1.3" />
<line x1="626.5" y1="1215.4" x2="646.8" y2="1215.4" stroke="#FF0000" stroke-width="1.3" />
<rect x="677.4" y="1324.8" width="41.2" height="62.8" fill="#0000C4" />
<line x1="698" y1="1324.8" x2="698" y2="1314.4" stroke="#0000C4" stroke-width="1.3" />
<line x1="687.8" y1="1314.4" x2="708.2" y2="1314.4" stroke="#0000C4" stroke-width="1.3" />
<path d="M534.1 1078.4V1387.6" fill="none" stroke="#000" stroke-width="2.8"/>
<line x1="521.8" y1="1387.6" x2="739.8" y2="1387.6" stroke="#000" stroke-width="2.8" />
<line x1="575.2" y1="1387.6" x2="575.2" y2="1400.9" stroke="#000" stroke-width="2.8" />
<line x1="636" y1="1387.6" x2="636" y2="1400.9" stroke="#000" stroke-width="2.8" />
<line x1="697.8" y1="1387.6" x2="697.8" y2="1400.9" stroke="#000" stroke-width="2.8" />
<text x="582.7" y="1422.6" font-size="23.3" font-weight="bold" text-anchor="end" transform="rotate(-45 582.7 1422.6)" >dbH<tspan font-size="16.78" font-weight="normal" dy="5.13">2</tspan><tspan dy="-5.13">O</tspan></text>
<text x="643.5" y="1422.6" font-size="23.3" font-weight="bold" text-anchor="end" transform="rotate(-45 643.5 1422.6)" >dbSDF</text>
<text x="705.3" y="1422.6" font-size="23.3" font-weight="bold" text-anchor="end" transform="rotate(-45 705.3 1422.6)" >Normal</text>
<path d="M559.5 1071.5V1050.5H704.8V1071.5" fill="none" stroke="#000" stroke-width="3.4" stroke-linejoin="round"/>
<text x="617.2" y="1049.7" font-size="36" font-weight="bold" text-anchor="middle" >*</text>
<text x="634.6" y="1049.7" font-size="36" font-weight="bold" text-anchor="middle" >*</text>
<path d="M578.7 1098.8V1084.4H649.5V1098.8" fill="none" stroke="#000" stroke-width="3.4" stroke-linejoin="round"/>
<text x="613.05" y="1092.9" font-size="36" font-weight="bold" text-anchor="middle" >*</text>
<path d="M639 1210.5V1195.8H711.9V1210.5" fill="none" stroke="#000" stroke-width="3.4" stroke-linejoin="round"/>
<text x="672.95" y="1194.1" font-size="36" font-weight="bold" text-anchor="middle" >*</text>
<text x="690.3" y="1194.1" font-size="36" font-weight="bold" text-anchor="middle" >*</text>
<text x="766.3" y="1036" font-size="26" font-weight="normal" text-anchor="start"  stroke="#000" stroke-width="0.3">E</text>
<text x="793.3" y="1218.9" font-size="32" font-weight="bold" text-anchor="middle" transform="rotate(-90 793.3 1218.9)" >Akkermansia</text>
<line x1="877.8" y1="1387.7" x2="892.6" y2="1387.7" stroke="#000" stroke-width="3.1" />
<text x="873.2" y="1396.65" font-size="25" font-weight="bold" text-anchor="end" >0.000</text>
<line x1="877.8" y1="1320.18" x2="892.6" y2="1320.18" stroke="#000" stroke-width="3.1" />
<text x="873.2" y="1329.13" font-size="25" font-weight="bold" text-anchor="end" >0.001</text>
<line x1="877.8" y1="1252.66" x2="892.6" y2="1252.66" stroke="#000" stroke-width="3.1" />
<text x="873.2" y="1261.61" font-size="25" font-weight="bold" text-anchor="end" >0.002</text>
<line x1="877.8" y1="1185.14" x2="892.6" y2="1185.14" stroke="#000" stroke-width="3.1" />
<text x="873.2" y="1194.09" font-size="25" font-weight="bold" text-anchor="end" >0.003</text>
<line x1="877.8" y1="1117.62" x2="892.6" y2="1117.62" stroke="#000" stroke-width="3.1" />
<text x="873.2" y="1126.57" font-size="25" font-weight="bold" text-anchor="end" >0.004</text>
<line x1="877.8" y1="1050.1" x2="892.6" y2="1050.1" stroke="#000" stroke-width="3.1" />
<text x="873.2" y="1059.05" font-size="25" font-weight="bold" text-anchor="end" >0.005</text>
<rect x="914.4" y="1345.6" width="44.4" height="42.1" fill="#065B06" />
<line x1="936.4" y1="1345.6" x2="936.4" y2="1334" stroke="#065B06" stroke-width="1.3" />
<line x1="925.3" y1="1334" x2="947.7" y2="1334" stroke="#065B06" stroke-width="1.3" />
<rect x="981.2" y="1179.1" width="44.2" height="208.6" fill="#FF0000" />
<line x1="1002.7" y1="1179.1" x2="1002.7" y2="1086.6" stroke="#FF0000" stroke-width="1.3" />
<line x1="991.9" y1="1086.6" x2="1014.3" y2="1086.6" stroke="#FF0000" stroke-width="1.3" />
<rect x="1048.3" y="1332.4" width="44.1" height="55.3" fill="#0000C4" />
<line x1="1069.8" y1="1332.4" x2="1069.8" y2="1313.2" stroke="#0000C4" stroke-width="1.3" />
<line x1="1059.2" y1="1313.2" x2="1081.3" y2="1313.2" stroke="#0000C4" stroke-width="1.3" />
<path d="M892.6 1048.55V1387.7" fill="none" stroke="#000" stroke-width="3.1"/>
<line x1="877.8" y1="1387.7" x2="1116.4" y2="1387.7" stroke="#000" stroke-width="3.1" />
<line x1="936.4" y1="1387.7" x2="936.4" y2="1403.5" stroke="#000" stroke-width="3.1" />
<line x1="1002.7" y1="1387.7" x2="1002.7" y2="1403.5" stroke="#000" stroke-width="3.1" />
<line x1="1069.8" y1="1387.7" x2="1069.8" y2="1403.5" stroke="#000" stroke-width="3.1" />
<text x="944.4" y="1424.2" font-size="25.4" font-weight="bold" text-anchor="end" transform="rotate(-45 944.4 1424.2)" >dbH<tspan font-size="18.29" font-weight="normal" dy="5.59">2</tspan><tspan dy="-5.59">O</tspan></text>
<text x="1010.7" y="1424.2" font-size="25.4" font-weight="bold" text-anchor="end" transform="rotate(-45 1010.7 1424.2)" >dbSDF</text>
<text x="1077.8" y="1424.2" font-size="25.4" font-weight="bold" text-anchor="end" transform="rotate(-45 1077.8 1424.2)" >Normal</text>
<path d="M910.4 1067.8V1051.5H998.8V1067.8" fill="none" stroke="#000" stroke-width="3.8" stroke-linejoin="round"/>
<text x="946.7" y="1026.6" font-size="40" font-weight="bold" text-anchor="middle" >*</text>
<path d="M1013.9 1067.8V1051.5H1102.4V1067.8" fill="none" stroke="#000" stroke-width="3.8" stroke-linejoin="round"/>
<text x="1056.4" y="1023.5" font-size="40" font-weight="bold" text-anchor="middle" >*</text>
<text x="1121.3" y="1032.5" font-size="25" font-weight="normal" text-anchor="start"  stroke="#000" stroke-width="0.3">F</text>
<text x="1174" y="1216.65" font-size="30" font-weight="bold" text-anchor="middle" transform="rotate(-90 1174 1216.65)" >Bacteroides</text>
<line x1="1255" y1="1377.7" x2="1268.7" y2="1377.7" stroke="#000" stroke-width="2.9" />
<text x="1250.4" y="1386.18" font-size="23.7" font-weight="bold" text-anchor="end" >0.000</text>
<line x1="1255" y1="1297.17" x2="1268.7" y2="1297.17" stroke="#000" stroke-width="2.9" />
<text x="1250.4" y="1305.66" font-size="23.7" font-weight="bold" text-anchor="end" >0.001</text>
<line x1="1255" y1="1216.65" x2="1268.7" y2="1216.65" stroke="#000" stroke-width="2.9" />
<text x="1250.4" y="1225.13" font-size="23.7" font-weight="bold" text-anchor="end" >0.002</text>
<line x1="1255" y1="1136.12" x2="1268.7" y2="1136.12" stroke="#000" stroke-width="2.9" />
<text x="1250.4" y="1144.61" font-size="23.7" font-weight="bold" text-anchor="end" >0.003</text>
<line x1="1255" y1="1055.6" x2="1268.7" y2="1055.6" stroke="#000" stroke-width="2.9" />
<text x="1250.4" y="1064.08" font-size="23.7" font-weight="bold" text-anchor="end" >0.004</text>
<rect x="1289.5" y="1351.1" width="42.4" height="26.6" fill="#065B06" />
<line x1="1310" y1="1351.1" x2="1310" y2="1312.9" stroke="#065B06" stroke-width="1.3" />
<line x1="1300.2" y1="1312.9" x2="1321" y2="1312.9" stroke="#065B06" stroke-width="1.3" />
<rect x="1352.9" y="1178.7" width="41.9" height="199" fill="#FF0000" />
<line x1="1373.4" y1="1178.7" x2="1373.4" y2="1091.7" stroke="#FF0000" stroke-width="1.3" />
<line x1="1363" y1="1091.7" x2="1383.8" y2="1091.7" stroke="#FF0000" stroke-width="1.3" />
<rect x="1416.4" y="1316.1" width="41.8" height="61.6" fill="#0000C4" />
<line x1="1436.9" y1="1316.1" x2="1436.9" y2="1287.4" stroke="#0000C4" stroke-width="1.3" />
<line x1="1426.8" y1="1287.4" x2="1447.3" y2="1287.4" stroke="#0000C4" stroke-width="1.3" />
<path d="M1268.7 1054.15V1377.7" fill="none" stroke="#000" stroke-width="2.9"/>
<line x1="1255" y1="1377.7" x2="1480.9" y2="1377.7" stroke="#000" stroke-width="2.9" />
<line x1="1310" y1="1377.7" x2="1310" y2="1392.4" stroke="#000" stroke-width="2.9" />
<line x1="1373.4" y1="1377.7" x2="1373.4" y2="1392.4" stroke="#000" stroke-width="2.9" />
<line x1="1436.9" y1="1377.7" x2="1436.9" y2="1392.4" stroke="#000" stroke-width="2.9" />
<text x="1317.5" y="1412.7" font-size="24" font-weight="bold" text-anchor="end" transform="rotate(-45 1317.5 1412.7)" >dbH<tspan font-size="17.28" font-weight="normal" dy="5.28">2</tspan><tspan dy="-5.28">O</tspan></text>
<text x="1380.9" y="1412.7" font-size="24" font-weight="bold" text-anchor="end" transform="rotate(-45 1380.9 1412.7)" >dbSDF</text>
<text x="1444.4" y="1412.7" font-size="24" font-weight="bold" text-anchor="end" transform="rotate(-45 1444.4 1412.7)" >Normal</text>
<path d="M1290.2 1074V1058.8H1373.9V1074" fill="none" stroke="#000" stroke-width="3.5" stroke-linejoin="round"/>
<text x="1327.1" y="1037.79" font-size="37.5" font-weight="bold" text-anchor="middle" >*</text>
</g>
</svg>
</body></html>
